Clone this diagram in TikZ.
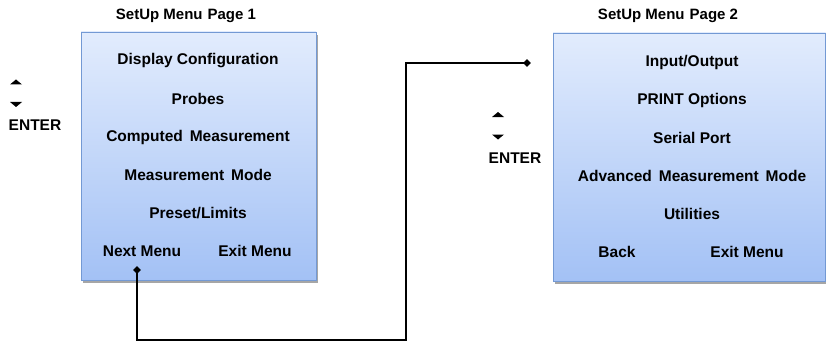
\documentclass[tikz,border=0pt]{standalone}
\usepackage{fontspec}
\setmainfont{Liberation Sans}
\definecolor{boxtop}{HTML}{E2ECFD}
\definecolor{boxbot}{HTML}{A3C1F5}
\definecolor{boxline}{HTML}{7399D4}
\usetikzlibrary{shapes.geometric}
\tikzset{
  menubox/.style={draw=boxline, line width=0.8pt, top color=boxtop, bottom color=boxbot},
  shadowbox/.style={fill=black!35, draw=none},
  item/.style={font=\fontsize{15.5}{17}\selectfont\bfseries, inner sep=0pt},
  title/.style={font=\fontsize{15}{17}\selectfont\bfseries, inner sep=0pt},
  tri/.style={fill=black},
  link/.style={line width=1.8pt, line cap=rect},
  dot/.style={diamond, fill=black, minimum size=8pt, inner sep=0pt}
}
\begin{document}
\begin{tikzpicture}[x=1pt,y=-1pt]
\useasboundingbox (0,0) rectangle (826,342);
% boxes
\fill[shadowbox] (83,35) rectangle (318,283);
\draw[menubox] (81,32) rectangle (316,280);
\fill[shadowbox] (555,36) rectangle (826,284);
\draw[menubox] (553,33) rectangle (825.6,281);
% titles
\node[title] (t1) at (186,15.5) {SetUp Menu\,\,Page 1};
\node[title] (t2) at (668,15.5) {SetUp Menu\,\,Page 2};
% page 1 items
\node[item] (a1) at (198,61) {Display Configuration};
\node[item] (a2) at (198,99) {Probes};
\node[item] (a3) at (198,137) {Computed\, Measurement};
\node[item] (a4) at (198,175) {Measurement\, Mode};
\node[item] (a5) at (198,213) {Preset/Limits};
\node[item] (a6) at (142,251) {Next Menu};
\node[item] (a7) at (255,251) {Exit Menu};
% page 2 items
\node[item] (b1) at (692,62) {Input/Output};
\node[item] (b2) at (692,100) {PRINT Options};
\node[item] (b3) at (692,138) {Serial Port};
\node[item] (b4) at (692,176) {Advanced\, Measurement\, Mode};
\node[item] (b5) at (692,214) {Utilities};
\node[item] (b6) at (617,252) {Back};
\node[item] (b7) at (747,252) {Exit Menu};
% keys
\fill[tri] (10,84.5) -- (16,79.5) -- (22,84.5) -- cycle;
\fill[tri] (10,102) -- (16,107) -- (22,102) -- cycle;
\node[item] (e1) at (35,125) {ENTER};
\fill[tri] (492,117) -- (498,112) -- (504,117) -- cycle;
\fill[tri] (492,134.5) -- (498,139.5) -- (504,134.5) -- cycle;
\node[item] (e2) at (515,158) {ENTER};
% connector
\node[dot] (p1) at (137,270) {};
\node[dot] (p2) at (527,63) {};
\coordinate (c1) at (137,340);
\coordinate (c2) at (406,340);
\coordinate (c3) at (406,63);
\draw[link] (p1.center) -- (c1) -- (c2) -- (c3) -- (p2.center);
\end{tikzpicture}
\end{document}
